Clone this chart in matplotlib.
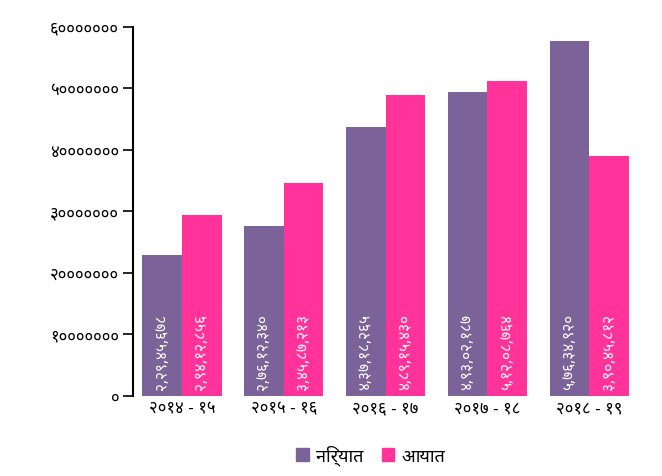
import matplotlib
matplotlib.use("Agg")
import matplotlib.pyplot as plt
from matplotlib import font_manager
from matplotlib.patches import Patch

# data
years = ["२०१४ - १५", "२०१५ - १६", "२०१६ - १७", "२०१७ - १८", "२०१८ - १९"]
series_names = ["निर्यात", "आयात"]
exports = [22945678, 27612340, 43718265, 49302187, 57634920]
imports = [29412856, 34587213, 48915430, 51208764, 39045812]
y_ticks = [0, 10000000, 20000000, 30000000, 40000000, 50000000, 60000000]

purple = "#7b6399"
pink = "#ff3399"

# pick an installed devanagari sans font
installed = {f.name for f in font_manager.fontManager.ttflist}
deva = None
for name in ["Noto Sans Devanagari", "Hind", "Mukta", "Poppins", "FreeSans"]:
    if name in installed:
        deva = name
        break
families = ([deva] if deva else []) + ["DejaVu Sans"]
plt.rcParams["font.family"] = families

DIG = str.maketrans("0123456789", "०१२३४५६७८९")

def deva_num(n):
    s = str(n)
    # indian grouping
    if len(s) > 3:
        head, tail = s[:-3], s[-3:]
        parts = []
        while len(head) > 2:
            parts.insert(0, head[-2:])
            head = head[:-2]
        if head:
            parts.insert(0, head)
        s = ",".join(parts) + "," + tail
    return s.translate(DIG)

fig = plt.figure(figsize=(6.62, 4.77), dpi=100)
ax = fig.add_axes([0.201, 0.168, 0.766, 0.774])

x = list(range(len(years)))
w = 0.39
b1 = ax.bar([i - w / 2 for i in x], exports, width=w, color=purple)
b2 = ax.bar([i + w / 2 for i in x], imports, width=w, color=pink)

for bars, vals in ((b1, exports), (b2, imports)):
    for r, v in zip(bars, vals):
        ax.annotate(deva_num(v), (r.get_x() + r.get_width() / 2, 0),
                    xytext=(0, 5), textcoords="offset points",
                    rotation=90, ha="center", va="bottom",
                    color="white", fontsize=11)

ax.set_ylim(0, 60000000)
ax.set_xlim(-0.48, 4.5)
ax.set_yticks(y_ticks)
ax.set_yticklabels([str(t).translate(DIG) for t in y_ticks], fontsize=12)
ax.set_xticks(x)
ax.set_xticklabels(years, fontsize=12)

for s in ["top", "right", "bottom"]:
    ax.spines[s].set_visible(False)
ax.spines["left"].set_linewidth(1.5)
ax.tick_params(axis="y", length=7, width=1.2, pad=3)
ax.tick_params(axis="x", length=0, pad=3)

handles = [Patch(color=purple), Patch(color=pink)]
fig.legend(handles, series_names, loc="lower center", bbox_to_anchor=(0.56, -0.012),
           ncol=2, frameon=False, fontsize=13, handlelength=0.7, handleheight=0.7,
           handletextpad=0.4, columnspacing=1.0)

fig.savefig("out.png", dpi=100)
